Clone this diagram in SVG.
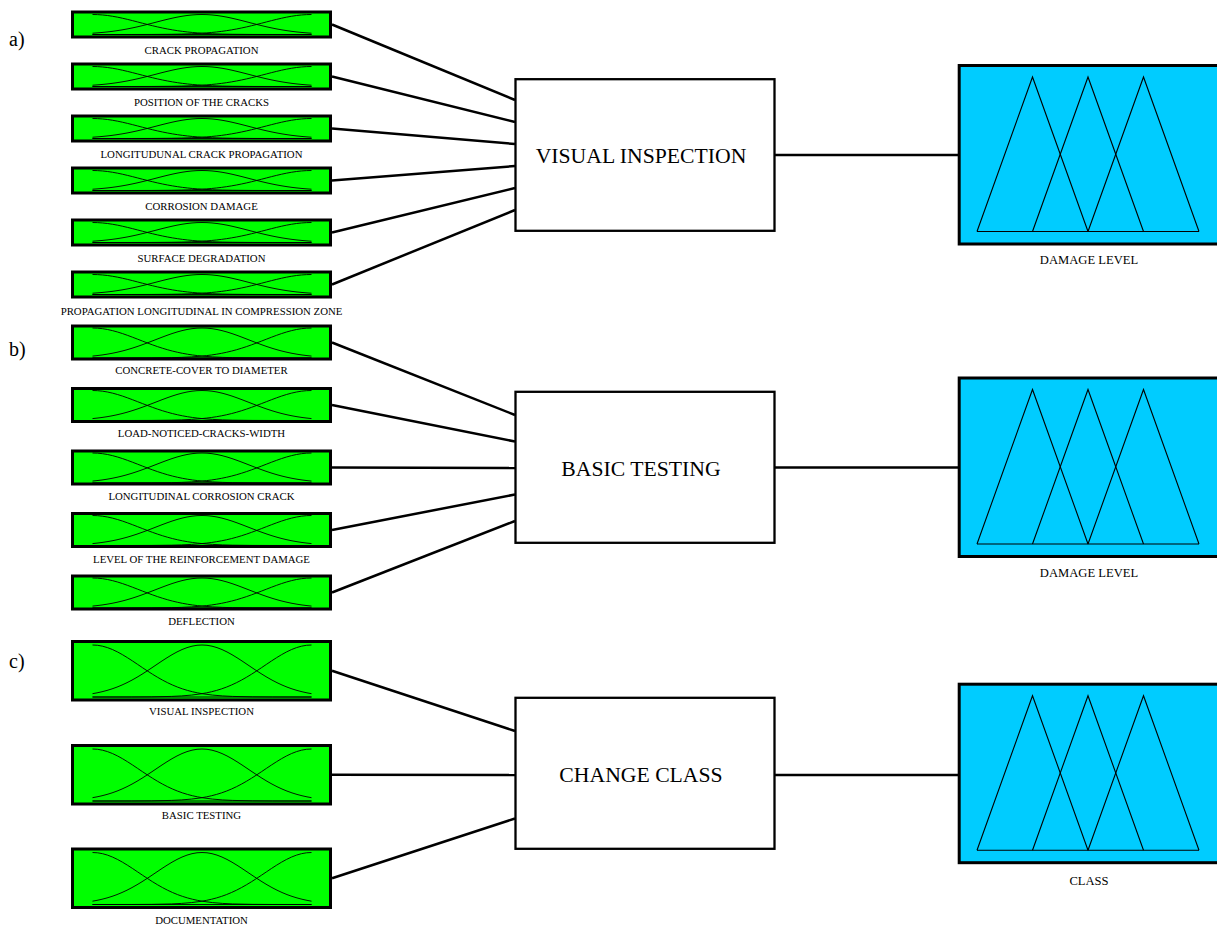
<svg xmlns="http://www.w3.org/2000/svg" xmlns:xlink="http://www.w3.org/1999/xlink" width="1217" height="927" viewBox="0 0 1217 927">
  <style>
    .txt{font-family:"Liberation Serif","Times New Roman",serif;fill:#000}
    .lbl{font-size:10.8px;text-anchor:middle}
    .sec{font-size:20px}
    .rtxt{font-size:21.7px;text-anchor:middle}
    .otxt{font-size:12.6px;text-anchor:middle}
    .inbox{fill:#00ff00;stroke:#000;stroke-width:3}
    .rule{fill:#fff;stroke:#000;stroke-width:2.3}
    .outbox{fill:#00ccff;stroke:#000;stroke-width:3}
    .mf polyline,.mf line{fill:none;stroke:#000;stroke-width:0.9;vector-effect:non-scaling-stroke}
    .tri polyline,.tri line{fill:none;stroke:#000;stroke-width:1.1}
    .conn line{stroke:#000;stroke-width:2.5}
  </style>
  <defs>
    <!-- three gaussian membership functions on a 219 x 100 frame -->
    <g id="mf" class="mf">
      <polyline points="0,0 5,0.57 10,2.27 15,5.03 20,8.76 25,13.35 30,18.64 35,24.49 40,30.7 45,37.14 50,43.63 55,50.02 60,56.19 65,62.04 70,67.48 75,72.46 80,76.95 85,80.92 90,84.39 95,87.37 100,89.9 105,92.01 110,93.76 120,96.32 130,97.92 140,98.88 160,99.72 180,99.94 219,100"/>
      <polyline points="0,93.6 4.5,92.01 9.5,89.9 14.5,87.37 19.5,84.39 24.5,80.92 29.5,76.95 34.5,72.46 39.5,67.48 44.5,62.04 49.5,56.19 54.5,50.02 59.5,43.63 64.5,37.14 69.5,30.7 74.5,24.49 79.5,18.64 84.5,13.35 89.5,8.76 94.5,5.03 99.5,2.27 104.5,0.57 109.5,0 114.5,0.57 119.5,2.27 124.5,5.03 129.5,8.76 134.5,13.35 139.5,18.64 144.5,24.49 149.5,30.7 154.5,37.14 159.5,43.63 164.5,50.02 169.5,56.19 174.5,62.04 179.5,67.48 184.5,72.46 189.5,76.95 194.5,80.92 199.5,84.39 204.5,87.37 209.5,89.9 214.5,92.01 219,93.6"/>
      <polyline points="219,0 214,0.57 209,2.27 204,5.03 199,8.76 194,13.35 189,18.64 184,24.49 179,30.7 174,37.14 169,43.63 164,50.02 159,56.19 154,62.04 149,67.48 144,72.46 139,76.95 134,80.92 129,84.39 124,87.37 119,89.9 114,92.01 109,93.76 99,96.32 89,97.92 79,98.88 59,99.72 39,99.94 0,100"/>
      <line x1="0" y1="100" x2="219" y2="100"/>
    </g>
    <!-- three triangular membership functions, relative to the box top -->
    <g id="tris" class="tri">
      <polyline points="977,167.5 1032.5,13 1088,167.5"/>
      <polyline points="1032.5,167.5 1088,13 1143.5,167.5"/>
      <polyline points="1088,167.5 1143.5,13 1199,167.5"/>
      <line x1="977" y1="167.5" x2="1199" y2="167.5"/>
    </g>
  </defs>

  <!-- section letters -->
  <text class="txt sec" x="9" y="46">a)</text>
  <text class="txt sec" x="9" y="356">b)</text>
  <text class="txt sec" x="9" y="668">c)</text>

  <g id="connectors" class="conn">
    <line x1="332" y1="24.5" x2="515" y2="100"/>
    <line x1="332" y1="76.5" x2="515" y2="122"/>
    <line x1="332" y1="128.5" x2="515" y2="144"/>
    <line x1="332" y1="180.5" x2="515" y2="166"/>
    <line x1="332" y1="232.5" x2="515" y2="188"/>
    <line x1="332" y1="284.5" x2="515" y2="210"/>
    <line x1="775" y1="155" x2="959" y2="155"/>
    <line x1="332" y1="342.5" x2="515" y2="415"/>
    <line x1="332" y1="405" x2="515" y2="441.5"/>
    <line x1="332" y1="467.5" x2="515" y2="468"/>
    <line x1="332" y1="530" x2="515" y2="494.5"/>
    <line x1="332" y1="592.5" x2="515" y2="521"/>
    <line x1="775" y1="467.5" x2="959" y2="467.5"/>
    <line x1="332" y1="670.75" x2="515" y2="731"/>
    <line x1="332" y1="774.75" x2="515" y2="775"/>
    <line x1="332" y1="878.25" x2="515" y2="818.5"/>
    <line x1="775" y1="775" x2="959" y2="775"/>
  </g>

  <!-- a) visual inspection inputs -->
  <g id="crack-propagation">
    <rect class="inbox" x="72.5" y="12" width="258" height="25"/>
    <use xlink:href="#mf" transform="translate(92.5,14.5) scale(1,0.2)"/>
    <text class="txt lbl" x="201.5" y="53.5">CRACK PROPAGATION</text>
  </g>
  <g id="position-of-cracks">
    <rect class="inbox" x="72.5" y="64" width="258" height="25"/>
    <use xlink:href="#mf" transform="translate(92.5,66.5) scale(1,0.2)"/>
    <text class="txt lbl" x="201.5" y="105.5">POSITION OF THE CRACKS</text>
  </g>
  <g id="longitudinal-crack-propagation">
    <rect class="inbox" x="72.5" y="116" width="258" height="25"/>
    <use xlink:href="#mf" transform="translate(92.5,118.5) scale(1,0.2)"/>
    <text class="txt lbl" x="201.5" y="157.5">LONGITUDUNAL CRACK PROPAGATION</text>
  </g>
  <g id="corrosion-damage">
    <rect class="inbox" x="72.5" y="168" width="258" height="25"/>
    <use xlink:href="#mf" transform="translate(92.5,170.5) scale(1,0.2)"/>
    <text class="txt lbl" x="201.5" y="209.5">CORROSION DAMAGE</text>
  </g>
  <g id="surface-degradation">
    <rect class="inbox" x="72.5" y="220" width="258" height="25"/>
    <use xlink:href="#mf" transform="translate(92.5,222.5) scale(1,0.2)"/>
    <text class="txt lbl" x="201.5" y="261.5">SURFACE DEGRADATION</text>
  </g>
  <g id="propagation-compression-zone">
    <rect class="inbox" x="72.5" y="272" width="258" height="25"/>
    <use xlink:href="#mf" transform="translate(92.5,274.5) scale(1,0.2)"/>
    <text class="txt lbl" x="201.5" y="314.5">PROPAGATION LONGITUDINAL IN COMPRESSION ZONE</text>
  </g>

  <!-- b) basic testing inputs -->
  <g id="concrete-cover">
    <rect class="inbox" x="72.5" y="326" width="258" height="33"/>
    <use xlink:href="#mf" transform="translate(92.5,328) scale(1,0.3)"/>
    <text class="txt lbl" x="201.5" y="373.5">CONCRETE-COVER TO DIAMETER</text>
  </g>
  <g id="load-cracks-width">
    <rect class="inbox" x="72.5" y="388.5" width="258" height="33"/>
    <use xlink:href="#mf" transform="translate(92.5,390.5) scale(1,0.3)"/>
    <text class="txt lbl" x="201.5" y="437">LOAD-NOTICED-CRACKS-WIDTH</text>
  </g>
  <g id="longitudinal-corrosion-crack">
    <rect class="inbox" x="72.5" y="451" width="258" height="33"/>
    <use xlink:href="#mf" transform="translate(92.5,453) scale(1,0.3)"/>
    <text class="txt lbl" x="201.5" y="500">LONGITUDINAL CORROSION CRACK</text>
  </g>
  <g id="reinforcement-damage">
    <rect class="inbox" x="72.5" y="513.5" width="258" height="33"/>
    <use xlink:href="#mf" transform="translate(92.5,515.5) scale(1,0.3)"/>
    <text class="txt lbl" x="201.5" y="563">LEVEL OF THE REINFORCEMENT DAMAGE</text>
  </g>
  <g id="deflection">
    <rect class="inbox" x="72.5" y="576" width="258" height="33"/>
    <use xlink:href="#mf" transform="translate(92.5,578) scale(1,0.3)"/>
    <text class="txt lbl" x="201.5" y="624.5">DEFLECTION</text>
  </g>

  <!-- c) change class inputs -->
  <g id="in-visual-inspection">
    <rect class="inbox" x="72.5" y="641.5" width="258" height="58.5"/>
    <use xlink:href="#mf" transform="translate(92.5,645) scale(1,0.52)"/>
    <text class="txt lbl" x="201.5" y="714.5">VISUAL INSPECTION</text>
  </g>
  <g id="in-basic-testing">
    <rect class="inbox" x="72.5" y="745.5" width="258" height="58.5"/>
    <use xlink:href="#mf" transform="translate(92.5,749) scale(1,0.52)"/>
    <text class="txt lbl" x="201.5" y="819">BASIC TESTING</text>
  </g>
  <g id="in-documentation">
    <rect class="inbox" x="72.5" y="849" width="258" height="58.5"/>
    <use xlink:href="#mf" transform="translate(92.5,852.5) scale(1,0.52)"/>
    <text class="txt lbl" x="201.5" y="923.5">DOCUMENTATION</text>
  </g>

  <!-- rule blocks -->
  <g id="rule-visual-inspection">
    <rect class="rule" x="515.5" y="79.2" width="259" height="151.6"/>
    <text class="txt rtxt" x="641" y="162.7">VISUAL INSPECTION</text>
  </g>
  <g id="rule-basic-testing">
    <rect class="rule" x="515.5" y="391.8" width="259" height="151"/>
    <text class="txt rtxt" x="641" y="476">BASIC TESTING</text>
  </g>
  <g id="rule-change-class">
    <rect class="rule" x="515.5" y="697.8" width="259" height="151"/>
    <text class="txt rtxt" x="641" y="782.3">CHANGE CLASS</text>
  </g>

  <!-- outputs -->
  <g id="out-damage-level-a">
    <rect class="outbox" x="959.2" y="65.5" width="300" height="178.5"/>
    <use xlink:href="#tris" transform="translate(0,64)"/>
    <text class="txt otxt" x="1089" y="264">DAMAGE LEVEL</text>
  </g>
  <g id="out-damage-level-b">
    <rect class="outbox" x="959.2" y="378" width="300" height="178.5"/>
    <use xlink:href="#tris" transform="translate(0,376.5)"/>
    <text class="txt otxt" x="1089" y="576.5">DAMAGE LEVEL</text>
  </g>
  <g id="out-class">
    <rect class="outbox" x="959.2" y="684.2" width="300" height="178.5"/>
    <use xlink:href="#tris" transform="translate(0,682.7)"/>
    <text class="txt otxt" x="1089" y="885">CLASS</text>
  </g>
</svg>
